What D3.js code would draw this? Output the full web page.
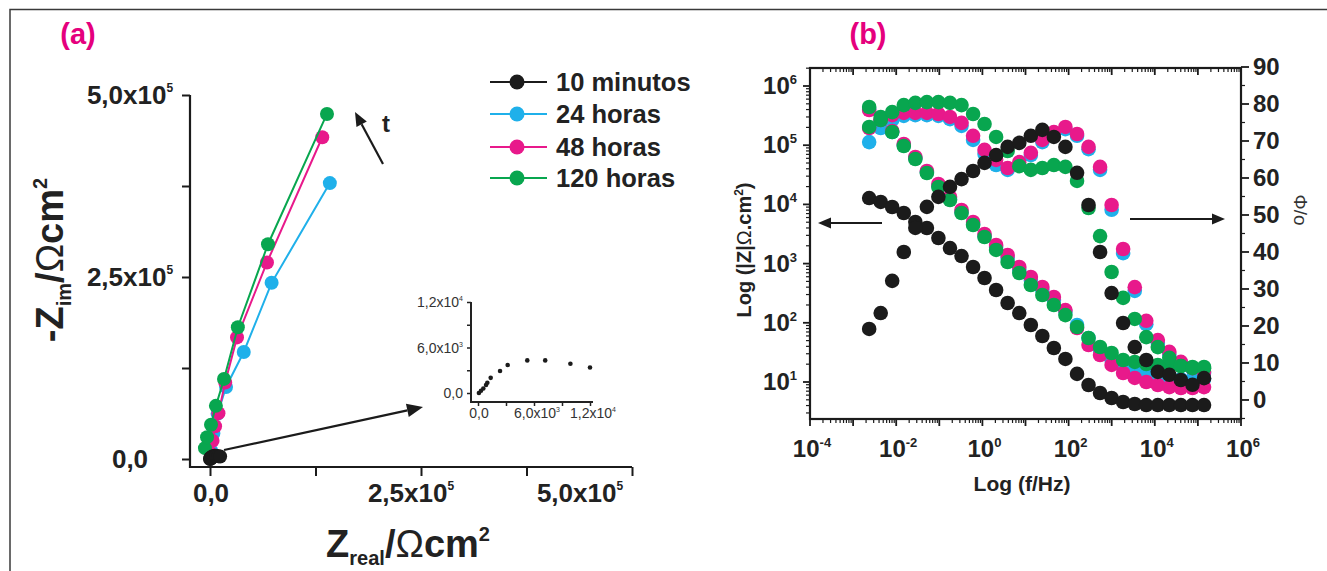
<!DOCTYPE html>
<html>
<head>
<meta charset="utf-8">
<script src="https://cdn.jsdelivr.net/npm/d3@7"></script>
<style>
  body { margin: 0; background: #fff; }
  svg { display: block; }
</style>
</head>
<body>
<svg id="chart" width="1327" height="571"></svg>
<script>
// ---------- series ----------
const seriesNames = ["10 minutos", "24 horas", "48 horas", "120 horas"];

// Nyquist (Z', -Z'') in ohm.cm2, high frequency first
const nyqRe10min = [100, 320, 570, 860, 1000, 1360, 2360, 3180, 5280, 7200, 9900, 12000];
const nyqIm10min = [0, 300, 600, 1060, 1360, 2000, 2900, 3700, 4300, 4300, 3850, 3360];
const nyqRe24h = [1000, 4000, 9000, 19000, 40000, 73000, 142000];
const nyqIm24h = [12000, 35000, 62000, 99000, 147000, 242000, 379000];
const nyqRe48h = [500, 3000, 6000, 10000, 18000, 32000, 67500, 133000];
const nyqIm48h = [8000, 25000, 45000, 63000, 105000, 167000, 270000, 442000];
const nyqRe120h = [-6000, -3500, 1200, 7000, 16600, 33000, 68700, 138600];
const nyqIm120h = [15000, 30000, 47000, 73000, 110000, 181000, 295000, 474000];

// Bode: frequency (Hz), |Z| (ohm.cm2) and phase angle (degrees)
const freqHz = [0.00236, 0.00437, 0.00807, 0.0150, 0.0278, 0.0515, 0.0953, 0.177, 0.328, 0.608,
                1.12, 2.08, 3.85, 7.18, 13.3, 24.6, 45.5, 84.3, 157, 290,
                537, 995, 1841, 3428, 6339, 11750, 21730, 40270, 74820, 138700];
const zMod10min = [12800, 11000, 9040, 7160, 5040, 3990, 2710, 1830, 1340, 877,
                   571, 358, 216, 146, 91.9, 59.8, 37.5, 24.5, 13.7, 8.89,
                   6.51, 5.37, 4.59, 4.25, 4.08, 4.08, 4.08, 4.08, 4.08, 4.08];
const zMod24h = [408500, 256400, 167100, 100700, 60800, 35240, 20460, 12330, 7450, 4670,
                 2930, 1910, 1245, 780, 528, 358, 243, 152, 91.8, 55.3,
                 34.7, 23.5, 17.9, 14.8, 13.1, 12.1, 11.7, 11.2, 11.2, 11.2];
const zMod48h = [393400, 266700, 173800, 104800, 63200, 36650, 22130, 13340, 8040, 5040,
                 3160, 2060, 1397, 877, 594, 403, 273, 164, 81.7, 42.2,
                 28.6, 19.4, 14.2, 11.7, 10.0, 8.9, 8.2, 7.9, 7.9, 8.2];
const zMod120h = [441600, 266700, 167100, 96900, 58500, 33900, 19700, 11860, 7160, 4490,
                  2810, 1700, 1064, 694, 435, 295, 200, 135, 84.9, 55.3,
                  39.0, 30.9, 23.5, 21.8, 20.1, 19.4, 18.6, 18.6, 17.9, 17.9];
const phase10min = [19.2, 23.5, 32.2, 40.0, 46.5, 52.2, 54.9, 57.6, 59.7, 61.9,
                    64.1, 66.2, 68.4, 69.5, 71.4, 73.0, 71.1, 68.4, 61.4, 52.7,
                    40.0, 28.9, 20.8, 14.3, 10.8, 7.6, 6.8, 5.4, 4.1, 5.9];
const phase24h = [69.7, 73.5, 75.7, 76.8, 77.0, 77.0, 76.8, 75.9, 74.1, 70.3,
                  66.5, 63.5, 62.2, 63.5, 66.2, 69.7, 72.2, 73.2, 71.4, 67.8,
                  62.2, 51.4, 39.7, 29.5, 20.5, 15.4, 12.2, 10.0, 8.4, 7.3];
const phase48h = [73.5, 75.9, 77.0, 77.6, 77.6, 77.6, 77.3, 76.5, 74.9, 71.4,
                  67.6, 64.9, 62.7, 64.3, 66.8, 70.3, 72.4, 73.8, 71.9, 68.4,
                  63.0, 52.7, 40.8, 30.5, 21.4, 16.2, 13.0, 10.3, 8.6, 7.6];
const phase120h = [73.8, 76.5, 77.8, 79.7, 80.3, 80.5, 80.5, 80.3, 79.7, 77.3,
                   74.6, 71.1, 67.3, 63.2, 62.2, 62.7, 63.5, 63.0, 59.2, 51.9,
                   44.3, 34.6, 27.6, 21.9, 17.0, 14.3, 11.4, 9.2, 8.6, 8.6];

// ---------- tick labels ----------
const nyqTicks = [0, 2.5e5, 5e5];
const nyqTickText = ["0,0", "2,5x10^5", "5,0x10^5"];
const insetTicks = [0, 6000, 12000];
const insetTickText = ["0,0", "6,0x10^3", "1,2x10^4"];
const freqTicks = [1e-4, 1e-2, 1, 1e2, 1e4, 1e6];
const zTicks = [10, 1e2, 1e3, 1e4, 1e5, 1e6];
const phaseTicks = [0, 10, 20, 30, 40, 50, 60, 70, 80, 90];

// ---------- styling ----------
const colors = ["#1b1b1b", "#1fb0ea", "#e8198b", "#08a64f"];
const FONT = '"Liberation Sans", Arial, Helvetica, sans-serif';

const svg = d3.select("#chart").attr("font-family", FONT);

// helper: "a^b" -> a with superscript b
function parseSup(str) {
  const i = str.indexOf("^");
  return i < 0 ? [{ t: str }] : [{ t: str.slice(0, i) }, { t: str.slice(i + 1), sup: true }];
}
function addParts(textSel, parts, o) {
  let off = 0;
  parts.forEach(p => {
    const target = p.sup ? -o.supRise : (p.sub ? o.subDrop : 0);
    const ts = textSel.append("tspan").attr("dy", target - off).text(p.t);
    if (p.sup) ts.attr("font-size", o.supSize);
    if (p.sub) ts.attr("font-size", o.subSize);
    if (p.w) ts.attr("font-weight", p.w);
    off = target;
  });
  return textSel;
}
function arrow(g, x1, y1, x2, y2, head, w) {
  const a = Math.atan2(y2 - y1, x2 - x1);
  const bx = x2 - head * Math.cos(a), by = y2 - head * Math.sin(a);
  g.append("line").attr("x1", x1).attr("y1", y1).attr("x2", bx).attr("y2", by)
    .attr("stroke", "#1b1b1b").attr("stroke-width", w);
  const hw = head * 0.42;
  const p = [[x2, y2],
             [bx + hw * Math.sin(a), by - hw * Math.cos(a)],
             [bx - hw * Math.sin(a), by + hw * Math.cos(a)]];
  g.append("path").attr("d", "M" + p.map(d => d.join(",")).join("L") + "Z").attr("fill", "#1b1b1b");
}

// outer frame
svg.append("path").attr("d", "M10,571V9.5H1327").attr("fill", "none")
  .attr("stroke", "#3a3a3a").attr("stroke-width", 1.5);

// panel letters
[["(a)", 78], ["(b)", 868]].forEach(([t, x]) => {
  svg.append("text").attr("x", x).attr("y", 44).attr("text-anchor", "middle")
    .attr("font-size", 29).attr("font-weight", "bold").attr("fill", "#e5007d").text(t);
});

// =============== (a) Nyquist ===============
const gA = svg.append("g");
const xA = d3.scaleLinear().domain([0, 5e5]).range([210, 632]);
const yA = d3.scaleLinear().domain([0, 5e5]).range([459, 95]);

gA.append("g").attr("transform", "translate(190,0)")
  .call(d3.axisLeft(yA).tickValues([0, 1.25e5, 2.5e5, 3.75e5, 5e5]).tickSize(8).tickFormat(""))
  .call(g => g.select(".domain").remove())
  .call(g => g.selectAll("line").attr("stroke", "#1b1b1b").attr("stroke-width", 2));
gA.append("g").attr("transform", "translate(0,467)")
  .call(d3.axisBottom(xA).tickValues([0, 1.25e5, 2.5e5, 3.75e5, 5e5]).tickSize(9).tickFormat(""))
  .call(g => g.select(".domain").remove())
  .call(g => g.selectAll("line").attr("stroke", "#1b1b1b").attr("stroke-width", 2));
gA.append("path").attr("d", `M190,${yA(5e5)}V467H${xA(5e5)}`).attr("fill", "none")
  .attr("stroke", "#1b1b1b").attr("stroke-width", 2.2);

const supBig = { supRise: 12, supSize: 12, subDrop: 8, subSize: 18 };
const xLabelShift = [1, -10, -52];
nyqTicks.forEach((v, i) => {
  addParts(gA.append("text").attr("x", 130).attr("y", yA(v) + 9).attr("text-anchor", "middle")
    .attr("font-size", 26).attr("font-weight", "bold").attr("fill", "#222"), parseSup(nyqTickText[i]), supBig);
  addParts(gA.append("text").attr("x", xA(v) + xLabelShift[i]).attr("y", 502).attr("text-anchor", "middle")
    .attr("font-size", 26).attr("font-weight", "bold").attr("fill", "#222"), parseSup(nyqTickText[i]), supBig);
});

const titleOpt = { supRise: 16, supSize: 20, subDrop: 8, subSize: 20 };
addParts(gA.append("text").attr("transform", "translate(63,260) rotate(-90)").attr("text-anchor", "middle")
  .attr("font-size", 38).attr("font-weight", "bold").attr("fill", "#222"),
  [{ t: "-Z" }, { t: "im", sub: true }, { t: "/" }, { t: "Ω", w: "normal" }, { t: "cm" }, { t: "2", sup: true }], titleOpt);
addParts(gA.append("text").attr("x", 408).attr("y", 557).attr("text-anchor", "middle")
  .attr("font-size", 38).attr("font-weight", "bold").attr("fill", "#222"),
  [{ t: "Z" }, { t: "real", sub: true }, { t: "/" }, { t: "Ω", w: "normal" }, { t: "cm" }, { t: "2", sup: true }], titleOpt);

const nyqSeries = [
  { re: nyqRe24h, im: nyqIm24h, c: colors[1] },
  { re: nyqRe48h, im: nyqIm48h, c: colors[2] },
  { re: nyqRe120h, im: nyqIm120h, c: colors[3] },
  { re: nyqRe10min, im: nyqIm10min, c: colors[0] }
];
const lineA = d3.line().x(d => xA(d[0])).y(d => yA(d[1]));
nyqSeries.forEach(s => {
  const pts = s.re.map((r, i) => [r, s.im[i]]);
  gA.append("path").attr("d", lineA(pts)).attr("fill", "none").attr("stroke", s.c).attr("stroke-width", 2);
  gA.selectAll(null).data(pts).enter().append("circle")
    .attr("cx", d => xA(d[0])).attr("cy", d => yA(d[1])).attr("r", 7).attr("fill", s.c);
});

// time arrow and zoom arrow
arrow(gA, 383, 164, 355, 112, 14, 2.2);
gA.append("text").attr("x", 382).attr("y", 132).attr("font-size", 24).attr("font-weight", "bold")
  .attr("fill", "#222").text("t");
arrow(gA, 224, 450, 423, 407, 16, 2.2);

// legend
seriesNames.forEach((name, i) => {
  const y = [82, 114, 147, 178][i];
  gA.append("line").attr("x1", 490).attr("x2", 547).attr("y1", y).attr("y2", y)
    .attr("stroke", colors[i]).attr("stroke-width", 2);
  gA.append("circle").attr("cx", 517).attr("cy", y).attr("r", 7.5).attr("fill", colors[i]);
  gA.append("text").attr("x", 556).attr("y", y + 9).attr("font-size", 25.5).attr("font-weight", "bold")
    .attr("fill", "#222").text(name);
});

// inset: 10 minutes curve
const xIn = d3.scaleLinear().domain([0, 12000]).range([478, 590]);
const yIn = d3.scaleLinear().domain([0, 12000]).range([393, 302]);
const gIn = gA.append("g");
gIn.append("g").attr("transform", "translate(471,0)")
  .call(d3.axisLeft(yIn).tickValues([0, 3000, 6000, 9000, 12000]).tickSize(4).tickFormat(""))
  .call(g => g.select(".domain").remove())
  .call(g => g.selectAll("line").attr("stroke", "#222").attr("stroke-width", 1.5));
gIn.append("g").attr("transform", "translate(0,402)")
  .call(d3.axisBottom(xIn).tickValues([0, 3000, 6000, 9000, 12000]).tickSize(4).tickFormat(""))
  .call(g => g.select(".domain").remove())
  .call(g => g.selectAll("line").attr("stroke", "#222").attr("stroke-width", 1.5));
gIn.append("path").attr("d", "M471,302V402H593").attr("fill", "none").attr("stroke", "#222").attr("stroke-width", 2);
const supSmall = { supRise: 6, supSize: 7 };
insetTicks.forEach((v, i) => {
  addParts(gIn.append("text").attr("x", 463).attr("y", yIn(v) + 5).attr("text-anchor", "end")
    .attr("font-size", 14).attr("fill", "#333"), parseSup(insetTickText[i]), supSmall);
  addParts(gIn.append("text").attr("x", xIn(v) + (i ? 3 : 1)).attr("y", 418).attr("text-anchor", "middle")
    .attr("font-size", 14).attr("fill", "#333"), parseSup(insetTickText[i]), supSmall);
});
gIn.selectAll(null).data(nyqRe10min.map((r, i) => [r, nyqIm10min[i]])).enter().append("circle")
  .attr("cx", d => xIn(d[0])).attr("cy", d => yIn(d[1])).attr("r", 2.3).attr("fill", "#1b1b1b");

// =============== (b) Bode ===============
const gB = svg.append("g");
const L = 810, R = 1241, T = 68, B = 419;
const xB = d3.scaleLog().domain([1e-4, 1e6]).range([L, R]);
const yZ = d3.scaleLog().domain([2.371, 2.014e6]).range([B, T]);
const yP = d3.scaleLinear().domain([-5.14, 89.73]).range([B, T]);

function logTicks(lo, hi) {
  const out = [];
  for (let e = Math.floor(Math.log10(lo)); e <= Math.ceil(Math.log10(hi)); e++)
    for (let m = 1; m < 10; m++) { const v = m * Math.pow(10, e); if (v >= lo * 0.999 && v <= hi * 1.001) out.push(v); }
  return out;
}
const isMajor = v => Math.abs(Math.log10(v) - Math.round(Math.log10(v))) < 1e-6;
const fTicksAll = logTicks(1e-4, 1e6);
const zTicksAll = logTicks(2.371, 2.014e6);

function tickLines(g, vals, pos, horiz, base, dir, major, minor, majFn) {
  g.selectAll(null).data(vals).enter().append("line")
    .attr(horiz ? "x1" : "y1", d => pos(d)).attr(horiz ? "x2" : "y2", d => pos(d))
    .attr(horiz ? "y1" : "x1", base)
    .attr(horiz ? "y2" : "x2", d => base + dir * (majFn(d) ? major : minor))
    .attr("stroke", "#1b1b1b").attr("stroke-width", d => majFn(d) ? 1.8 : 1.2);
}
tickLines(gB, fTicksAll, xB, true, B, 1, 7, 4, isMajor);
tickLines(gB, fTicksAll, xB, true, T, 1, 7, 4, isMajor);
tickLines(gB, zTicksAll, yZ, false, L, -1, 7, 4, isMajor);
const pAll = d3.range(-5, 91, 5);
tickLines(gB, pAll, yP, false, R, 1, 8, 4, d => d % 10 === 0);
gB.append("rect").attr("x", L).attr("y", T).attr("width", R - L).attr("height", B - T)
  .attr("fill", "none").attr("stroke", "#1b1b1b").attr("stroke-width", 2.2);

const supMid = { supRise: 10, supSize: 13 };
const expLabel = v => "10^" + Math.round(Math.log10(v));
freqTicks.forEach(v => {
  addParts(gB.append("text").attr("x", xB(v) + 2).attr("y", 457).attr("text-anchor", "middle")
    .attr("font-size", 24).attr("font-weight", "bold").attr("fill", "#222"), parseSup(expLabel(v)), supMid);
});
zTicks.forEach(v => {
  addParts(gB.append("text").attr("x", 797).attr("y", yZ(v) + 8).attr("text-anchor", "end")
    .attr("font-size", 24).attr("font-weight", "bold").attr("fill", "#222"), parseSup(expLabel(v)), supMid);
});
phaseTicks.forEach(v => {
  gB.append("text").attr("x", 1253).attr("y", yP(v) + 8).attr("font-size", 24)
    .attr("font-weight", "bold").attr("fill", "#222").text(v);
});

gB.append("text").attr("x", 1022).attr("y", 491).attr("text-anchor", "middle")
  .attr("font-size", 21).attr("font-weight", "bold").attr("fill", "#222").text("Log (f/Hz)");
addParts(gB.append("text").attr("transform", "translate(751,250) rotate(-90)").attr("text-anchor", "middle")
  .attr("font-size", 20).attr("font-weight", "bold").attr("fill", "#222"),
  [{ t: "Log (|Z|" }, { t: "Ω", w: "normal" }, { t: ".cm" }, { t: "2", sup: true }, { t: ")" }],
  { supRise: 8, supSize: 12 });
gB.append("text").attr("transform", "translate(1294,210) rotate(90)").attr("text-anchor", "middle")
  .attr("font-size", 19).attr("fill", "#333").text("Φ/o");

arrow(gB, 882, 223, 818, 223, 13, 2);
arrow(gB, 1130, 219, 1225, 219, 13, 2);

const bode = [
  { z: zMod24h, p: phase24h, c: colors[1] },
  { z: zMod48h, p: phase48h, c: colors[2] },
  { z: zMod120h, p: phase120h, c: colors[3] },
  { z: zMod10min, p: phase10min, c: colors[0] }
];
bode.forEach(s => {
  gB.selectAll(null).data(freqHz.map((f, i) => [f, s.z[i]])).enter().append("circle")
    .attr("cx", d => xB(d[0])).attr("cy", d => yZ(d[1])).attr("r", 7.3).attr("fill", s.c);
  gB.selectAll(null).data(freqHz.map((f, i) => [f, s.p[i]])).enter().append("circle")
    .attr("cx", d => xB(d[0])).attr("cy", d => yP(d[1])).attr("r", 7.3).attr("fill", s.c);
});
</script>
</body>
</html>
